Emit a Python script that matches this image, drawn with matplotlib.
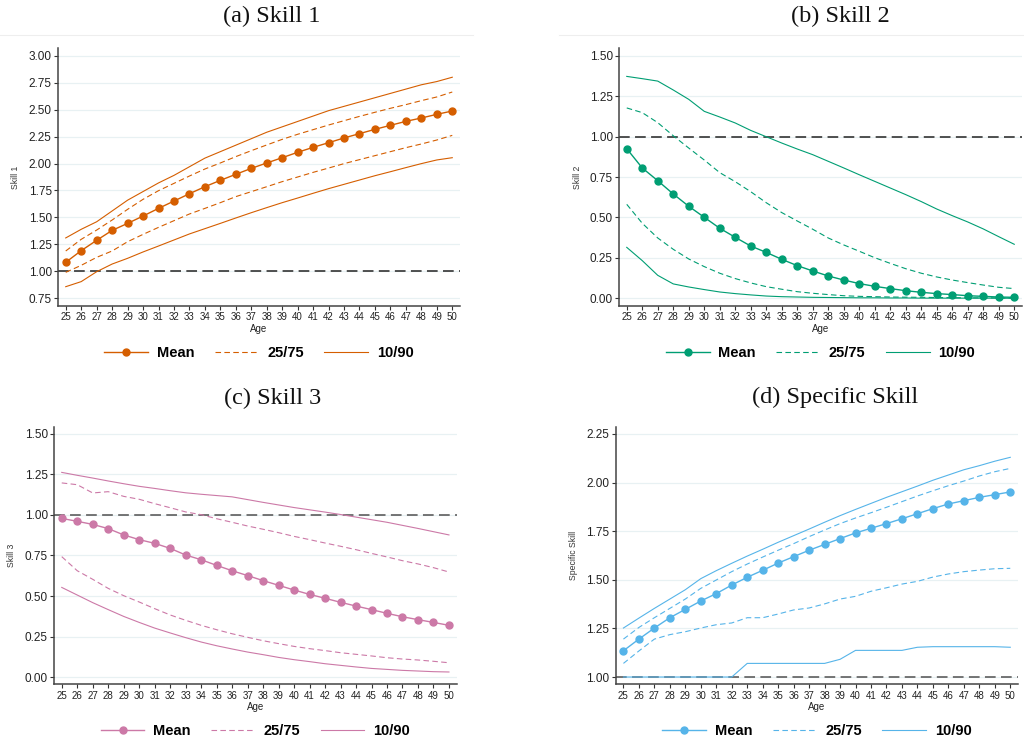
import matplotlib
matplotlib.use("Agg")
from matplotlib import pyplot as plt
from matplotlib.lines import Line2D

plt.rcParams['font.family'] = ['Liberation Sans', 'DejaVu Sans']

ages = list(range(25, 51))

# (a) Skill 1
skill1_mean = [1.084, 1.192, 1.288, 1.380, 1.445, 1.513, 1.584, 1.652, 1.720, 1.785, 1.844, 1.900, 1.955,
               2.005, 2.054, 2.104, 2.150, 2.193, 2.237, 2.277, 2.317, 2.354, 2.391, 2.422, 2.456, 2.487]
skill1_p10 = [0.858, 0.905, 0.997, 1.068, 1.121, 1.180, 1.235, 1.291, 1.347, 1.396, 1.445, 1.495, 1.544,
              1.591, 1.637, 1.680, 1.724, 1.767, 1.807, 1.847, 1.887, 1.924, 1.962, 1.999, 2.033, 2.054]
skill1_p25 = [0.991, 1.056, 1.130, 1.189, 1.275, 1.343, 1.408, 1.470, 1.532, 1.584, 1.637, 1.693, 1.739,
              1.785, 1.832, 1.875, 1.918, 1.958, 1.999, 2.036, 2.073, 2.110, 2.147, 2.181, 2.218, 2.261]
skill1_p75 = [1.189, 1.297, 1.383, 1.476, 1.575, 1.668, 1.748, 1.816, 1.884, 1.949, 2.005, 2.064, 2.119,
              2.172, 2.224, 2.271, 2.314, 2.357, 2.397, 2.437, 2.475, 2.512, 2.546, 2.583, 2.617, 2.663]
skill1_p90 = [1.31, 1.39, 1.46, 1.56, 1.66, 1.74, 1.82, 1.89, 1.97, 2.05, 2.11, 2.17, 2.23,
              2.29, 2.34, 2.39, 2.44, 2.49, 2.53, 2.57, 2.61, 2.65, 2.69, 2.73, 2.76, 2.80]

# (b) Skill 2
skill2_mean = [0.925, 0.806, 0.727, 0.645, 0.569, 0.501, 0.433, 0.377, 0.323, 0.284, 0.241, 0.202, 0.169,
               0.138, 0.113, 0.091, 0.074, 0.060, 0.047, 0.037, 0.029, 0.023, 0.016, 0.012, 0.008, 0.006]
skill2_p10 = [0.315, 0.233, 0.142, 0.089, 0.070, 0.054, 0.039, 0.029, 0.021, 0.014, 0.010, 0.008, 0.006,
              0.005, 0.004, 0.003, 0.003, 0.002, 0.002, 0.001, 0.001, 0.001, 0.001, 0.001, 0.001, 0.000]
skill2_p25 = [0.581, 0.464, 0.373, 0.303, 0.243, 0.196, 0.155, 0.122, 0.095, 0.072, 0.056, 0.041, 0.031,
              0.023, 0.016, 0.012, 0.010, 0.008, 0.007, 0.006, 0.005, 0.004, 0.003, 0.003, 0.002, 0.002]
skill2_p75 = [1.177, 1.148, 1.086, 1.005, 0.929, 0.855, 0.777, 0.721, 0.659, 0.591, 0.530, 0.478, 0.427,
              0.373, 0.330, 0.291, 0.251, 0.216, 0.183, 0.155, 0.132, 0.113, 0.097, 0.082, 0.068, 0.060]
skill2_p90 = [1.372, 1.358, 1.343, 1.288, 1.230, 1.156, 1.121, 1.084, 1.038, 0.999, 0.960, 0.923, 0.888,
              0.847, 0.806, 0.764, 0.723, 0.682, 0.641, 0.598, 0.552, 0.511, 0.472, 0.429, 0.381, 0.334]

# (c) Skill 3
skill3_mean = [0.979, 0.961, 0.942, 0.916, 0.877, 0.848, 0.825, 0.794, 0.753, 0.724, 0.689, 0.656, 0.626,
               0.595, 0.566, 0.537, 0.510, 0.486, 0.461, 0.438, 0.416, 0.393, 0.372, 0.354, 0.337, 0.319]
skill3_p10 = [0.553, 0.506, 0.459, 0.416, 0.374, 0.337, 0.302, 0.272, 0.243, 0.216, 0.193, 0.173, 0.154,
              0.138, 0.121, 0.107, 0.095, 0.082, 0.072, 0.062, 0.053, 0.047, 0.041, 0.037, 0.033, 0.031]
skill3_p25 = [0.743, 0.656, 0.603, 0.547, 0.502, 0.463, 0.422, 0.383, 0.350, 0.319, 0.292, 0.267, 0.245,
              0.224, 0.206, 0.189, 0.175, 0.163, 0.150, 0.140, 0.130, 0.119, 0.111, 0.105, 0.097, 0.088]
skill3_p75 = [1.198, 1.187, 1.136, 1.144, 1.115, 1.097, 1.070, 1.045, 1.019, 1.002, 0.977, 0.955, 0.932,
              0.912, 0.891, 0.868, 0.848, 0.827, 0.807, 0.786, 0.763, 0.741, 0.718, 0.698, 0.675, 0.648]
skill3_p90 = [1.263, 1.245, 1.228, 1.210, 1.193, 1.177, 1.164, 1.150, 1.137, 1.128, 1.120, 1.112, 1.095,
              1.078, 1.062, 1.046, 1.032, 1.018, 1.003, 0.987, 0.971, 0.955, 0.936, 0.917, 0.897, 0.877]

# (d) Specific Skill
spec_mean = [1.135, 1.195, 1.252, 1.305, 1.348, 1.391, 1.429, 1.473, 1.513, 1.549, 1.586, 1.619, 1.652,
             1.682, 1.712, 1.741, 1.765, 1.789, 1.814, 1.840, 1.866, 1.890, 1.907, 1.924, 1.938, 1.952]
spec_p10 = [1.000, 1.000, 1.000, 1.000, 1.000, 1.000, 1.000, 1.000, 1.070, 1.070, 1.070, 1.070, 1.070,
            1.070, 1.091, 1.137, 1.137, 1.137, 1.137, 1.153, 1.156, 1.156, 1.156, 1.156, 1.156, 1.153]
spec_p25 = [1.070, 1.134, 1.195, 1.218, 1.233, 1.252, 1.269, 1.278, 1.305, 1.305, 1.324, 1.345, 1.355,
            1.376, 1.401, 1.415, 1.441, 1.459, 1.478, 1.492, 1.514, 1.530, 1.542, 1.550, 1.557, 1.559]
spec_p75 = [1.195, 1.255, 1.305, 1.353, 1.401, 1.456, 1.499, 1.542, 1.581, 1.617, 1.652, 1.686, 1.722,
            1.756, 1.789, 1.818, 1.845, 1.873, 1.902, 1.931, 1.958, 1.984, 2.008, 2.034, 2.056, 2.073]
spec_p90 = [1.252, 1.303, 1.353, 1.401, 1.449, 1.506, 1.547, 1.585, 1.622, 1.657, 1.693, 1.727, 1.761,
            1.796, 1.830, 1.862, 1.893, 1.924, 1.953, 1.982, 2.012, 2.039, 2.066, 2.087, 2.110, 2.130]

titles = ['(a) Skill 1', '(b) Skill 2', '(c) Skill 3', '(d) Specific Skill']
ylabels = ['Skill 1', 'Skill 2', 'Skill 3', 'Specific Skill']
colors = ['#D55E00', '#009E73', '#CC79A7', '#56B4E9']

W, H = 1024, 742
fig = plt.figure(figsize=(W / 100, H / 100), dpi=100)


def px(l, t, r, b):
    return [l / W, 1 - b / H, (r - l) / W, (b - t) / H]


panels = [
    dict(data=(skill1_mean, skill1_p25, skill1_p75, skill1_p10, skill1_p90),
         box=px(58, 48, 460, 306), ylim=(0.679, 3.071), yticks=[0.75 + 0.25 * i for i in range(10)],
         title_xy=(272, 16), ylab_x=15, refc='#222222'),
    dict(data=(skill2_mean, skill2_p25, skill2_p75, skill2_p10, skill2_p90),
         box=px(619, 48, 1022, 306), ylim=(-0.0476, 1.5476), yticks=[0.25 * i for i in range(7)],
         title_xy=(840, 16), ylab_x=577, refc='#222222'),
    dict(data=(skill3_mean, skill3_p25, skill3_p75, skill3_p10, skill3_p90),
         box=px(54, 426.7, 456.7, 684.3), ylim=(-0.045, 1.545), yticks=[0.25 * i for i in range(7)],
         title_xy=(273, 398), ylab_x=12, refc='#505050'),
    dict(data=(spec_mean, spec_p25, spec_p75, spec_p10, spec_p90),
         box=px(615.7, 426.7, 1018, 684.3), ylim=(0.9625, 2.2875), yticks=[1 + 0.25 * i for i in range(6)],
         title_xy=(835, 397), ylab_x=573, refc='#505050'),
]

for i, p in enumerate(panels):
    ax = fig.add_axes(p['box'])
    c = colors[i]
    mean, p25, p75, p10, p90 = p['data']

    for yt in p['yticks']:
        ax.axhline(yt, color='#E8F1F3', lw=0.9, zorder=0)
    ax.axhline(1.0, color=p['refc'], lw=1.1, ls=(0, (7, 3.5)), zorder=1)

    ax.plot(ages, p10, color=c, lw=0.8, zorder=2, label='10/90')
    ax.plot(ages, p90, color=c, lw=0.8, zorder=2)
    ax.plot(ages, p25, color=c, lw=0.8, ls=(0, (5, 3)), zorder=2, label='25/75')
    ax.plot(ages, p75, color=c, lw=0.8, ls=(0, (5, 3)), zorder=2)
    ax.plot(ages, mean, color=c, lw=1.0, marker='o', ms=5, zorder=3, label='Mean')

    ax.set_xlim(24.5, 50.5)
    ax.set_ylim(*p['ylim'])
    ax.set_xticks(ages)
    ax.set_yticks(p['yticks'])
    ax.set_yticklabels(['%.2f' % v for v in p['yticks']])
    ax.tick_params(axis='x', labelsize=7, length=3, width=0.8, pad=1.5, colors='#333333', labelcolor='#222222')
    ax.tick_params(axis='y', labelsize=8.5, length=3, width=0.8, pad=1.5, colors='#333333', labelcolor='#222222')
    for s in ['top', 'right']:
        ax.spines[s].set_visible(False)
    for s in ['left', 'bottom']:
        ax.spines[s].set_color('#444444')
        ax.spines[s].set_linewidth(1.1)
    ax.set_xlabel('Age', fontsize=7, labelpad=1, color='#222222')

    fig.text(p['ylab_x'] / W, 1 - (p['box'][1] * H + p['box'][3] * H / 2) / H * 0 - (1 - p['box'][1] - p['box'][3] / 2),
             ylabels[i], rotation=90, fontsize=6.2, ha='center', va='center', color='#333333')
    fig.text(p['title_xy'][0] / W, 1 - p['title_xy'][1] / H, titles[i], fontsize=17.5,
             family=['Liberation Serif', 'DejaVu Serif'], ha='center', va='center', color='#111111')

    h, l = ax.get_legend_handles_labels()
    order = [2, 1, 0]
    leg = ax.legend([h[k] for k in order], [l[k] for k in order], loc='center', bbox_to_anchor=(0.5, -0.182),
                    ncol=3, frameon=False, handlelength=3.0, handletextpad=0.6, columnspacing=1.4,
                    numpoints=1, prop={'weight': 'bold', 'size': 10.5})

# faint frame lines above top panels
fig.add_artist(Line2D([0, 473 / W], [1 - 35 / H, 1 - 35 / H], color='#EEEEEE', lw=0.8))
fig.add_artist(Line2D([559 / W, 1], [1 - 35 / H, 1 - 35 / H], color='#EEEEEE', lw=0.8))

plt.savefig('out.png', dpi=100)
